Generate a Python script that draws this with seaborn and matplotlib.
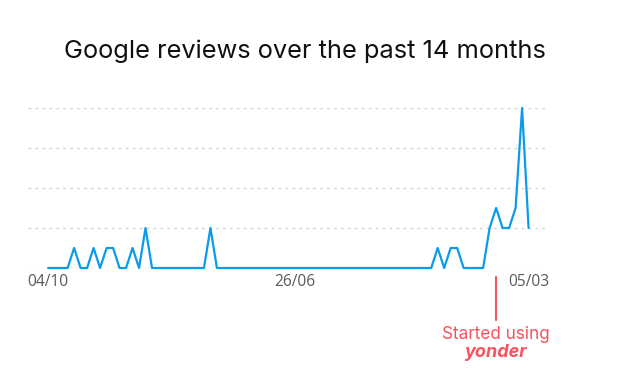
import numpy as np
import pandas as pd
import matplotlib
matplotlib.use('Agg')
import matplotlib.pyplot as plt
import seaborn as sns

# weekly review counts, 75 weeks
reviews = [0, 0, 0, 0, 1, 0, 0, 1, 0, 1, 1, 0, 0, 1, 0, 2, 0, 0, 0, 0,
           0, 0, 0, 0, 0, 2, 0, 0, 0, 0, 0, 0, 0, 0, 0, 0, 0, 0, 0, 0,
           0, 0, 0, 0, 0, 0, 0, 0, 0, 0, 0, 0, 0, 0, 0, 0, 0, 0, 0, 0,
           1, 0, 1, 1, 0, 0, 0, 0, 2, 3, 2, 2, 3, 8, 2]
weeks = list(range(len(reviews)))
tick_pos = [0, 38, 74]
tick_labels = ['04/10', '26/06', '05/03']
started_week = 69

df = pd.DataFrame({'week': weeks, 'reviews': reviews})

sns.set_style('white')
plt.rcParams['font.family'] = ['Inter', 'DejaVu Sans']

fig = plt.figure(figsize=(6.44, 3.92), dpi=100)
ax = fig.add_axes([0.0435, 0.3163, 0.8055, 0.4082])

sns.lineplot(data=df, x='week', y='reviews', color='#0b9be8', linewidth=1.6, ax=ax, clip_on=False, zorder=3)

ax.set_xlim(-3.1, 76.8)
ax.set_ylim(0, 8)
ax.set_yticks([0, 2, 4, 6, 8])
ax.set_yticklabels([])
ax.tick_params(axis='y', length=0)
ax.yaxis.grid(True, color='#d4d4d4', linestyle=(0, (2, 3)), linewidth=1)
ax.set_xticks(tick_pos)
ax.set_xticklabels(tick_labels, family=['Open Sans', 'DejaVu Sans'], fontsize=11.2, color='#5a5a5a')
ax.tick_params(axis='x', length=0, pad=4)
ax.set_xlabel('')
ax.set_ylabel('')
for s in ax.spines.values():
    s.set_visible(False)

# start marker
red = '#f5535e'
ax.plot([started_week, started_week], [-0.45, -2.6], color=red, linewidth=1.5, clip_on=False)
ax.text(started_week, -3.3, 'Started using', color=red, fontsize=12.3, ha='center', va='center')
ax.text(started_week, -4.2, 'yonder', color=red, fontsize=13, ha='center', va='center',
        fontweight='bold', fontstyle='italic')

fig.text(0.474, 0.87, 'Google reviews over the past 14 months', fontsize=18.3,
         ha='center', va='center', color='#111111')

fig.savefig('out.png', dpi=100)
